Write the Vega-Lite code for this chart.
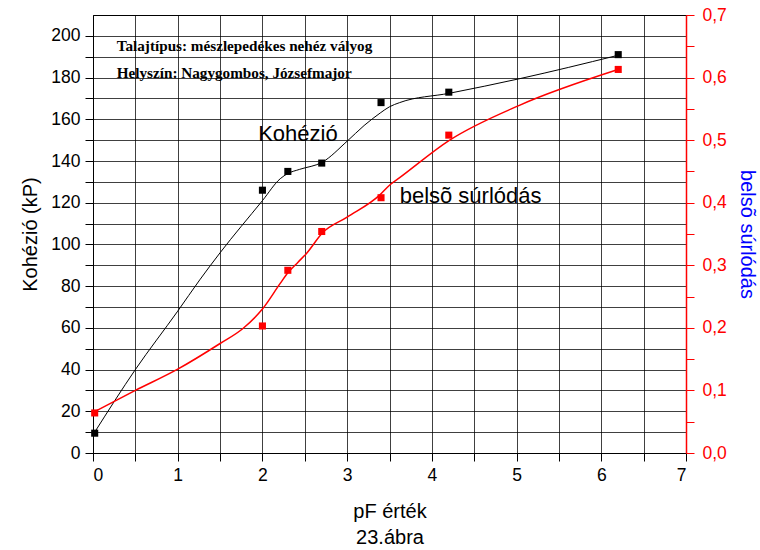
{
  "$schema": "https://vega.github.io/schema/vega-lite/v6.json",
  "width": 593,
  "height": 438,
  "autosize": "none",
  "padding": {"left": 93, "top": 15, "right": 74, "bottom": 97},
  "background": "white",
  "config": {
    "view": {"stroke": "#000", "strokeWidth": 1},
    "font": "Liberation Sans",
    "axis": {"labelFont": "Liberation Sans", "titleFont": "Liberation Sans", "titleFontWeight": "normal"}
  },
  "datasets": {
    "coh_pts": [
      {"x": 0.02, "y": 9.5}, {"x": 2.0, "y": 126}, {"x": 2.3, "y": 135}, {"x": 2.7, "y": 139},
      {"x": 3.4, "y": 168}, {"x": 4.2, "y": 173}, {"x": 6.2, "y": 191}
    ],
    "coh_curve": [
      {"x": 0.02, "y": 10}, {"x": 0.5, "y": 40}, {"x": 1.0, "y": 68}, {"x": 1.26, "y": 83},
      {"x": 1.5, "y": 96}, {"x": 2.0, "y": 121}, {"x": 2.21, "y": 131.5}, {"x": 2.3, "y": 134},
      {"x": 2.44, "y": 136}, {"x": 2.71, "y": 139.5}, {"x": 3.0, "y": 149.5}, {"x": 3.2, "y": 157},
      {"x": 3.39, "y": 163}, {"x": 3.5, "y": 166}, {"x": 3.62, "y": 168}, {"x": 4.21, "y": 172.5},
      {"x": 5.04, "y": 179.5}, {"x": 6.18, "y": 190.5}
    ],
    "fr_pts": [
      {"x": 0.02, "v": 0.064}, {"x": 2.0, "v": 0.203}, {"x": 2.3, "v": 0.292}, {"x": 2.7, "v": 0.354},
      {"x": 3.4, "v": 0.408}, {"x": 4.2, "v": 0.508}, {"x": 6.2, "v": 0.613}
    ],
    "fr_curve": [
      {"x": 0.02, "v": 0.066}, {"x": 0.5, "v": 0.1}, {"x": 1.0, "v": 0.134}, {"x": 1.5, "v": 0.175},
      {"x": 1.77, "v": 0.199}, {"x": 2.0, "v": 0.23}, {"x": 2.21, "v": 0.271}, {"x": 2.3, "v": 0.288},
      {"x": 2.42, "v": 0.305}, {"x": 2.52, "v": 0.319}, {"x": 2.71, "v": 0.352}, {"x": 3.0, "v": 0.377},
      {"x": 3.39, "v": 0.413}, {"x": 3.5, "v": 0.428}, {"x": 3.62, "v": 0.44}, {"x": 4.21, "v": 0.5},
      {"x": 5.04, "v": 0.556}, {"x": 6.18, "v": 0.612}
    ],
    "notes": [
      {"t": "Talajtípus: mészlepedékes nehéz vályog", "x": 0.28, "y": 195},
      {"t": "Helyszín: Nagygombos, Józsefmajor", "x": 0.28, "y": 182}
    ],
    "series_labels": [
      {"t": "Kohézió", "x": 1.95, "y": 153},
      {"t": "belsõ súrlódás", "x": 3.62, "y": 123}
    ]
  },
  "encoding": {
    "x": {
      "field": "x",
      "type": "quantitative",
      "scale": {"domain": [0, 7], "nice": false},
      "axis": {
        "values": [0, 0.5, 1, 1.5, 2, 2.5, 3, 3.5, 4, 4.5, 5, 5.5, 6, 6.5, 7],
        "labelExpr": "datum.value % 1 == 0 ? format(datum.value, 'd') : ''",
        "grid": true,
        "gridColor": "#000",
        "gridOpacity": 0.75,
        "domainColor": "#000",
        "tickColor": "#000",
        "tickSize": 8,
        "labelFontSize": 17.5,
        "labelColor": "#000",
        "labelPadding": 5,
        "title": ["pF érték", "23.ábra"],
        "titleFontSize": 20,
        "titleColor": "#000",
        "titlePadding": 18,
        "titleLineHeight": 26
      }
    }
  },
  "layer": [
    {
      "encoding": {
        "y": {
          "field": "y",
          "type": "quantitative",
          "scale": {"domain": [0, 210], "nice": false},
          "axis": {
            "orient": "left",
            "values": [0, 10, 20, 30, 40, 50, 60, 70, 80, 90, 100, 110, 120, 130, 140, 150, 160, 170, 180, 190, 200],
            "labelExpr": "datum.value % 20 == 0 ? format(datum.value, 'd') : ''",
            "grid": true,
            "gridColor": "#000",
            "gridOpacity": 0.75,
            "domainColor": "#000",
            "tickColor": "#000",
            "tickSize": 8,
            "labelFontSize": 17.5,
            "labelColor": "#000",
            "labelPadding": 5,
            "title": "Kohézió (kP)",
            "titleFontSize": 20,
            "titleColor": "#000",
            "titlePadding": 10
          }
        }
      },
      "layer": [
        {
          "data": {"name": "coh_curve"},
          "mark": {"type": "line", "color": "#000", "strokeWidth": 1, "interpolate": "monotone"}
        },
        {
          "data": {"name": "coh_pts"},
          "mark": {"type": "point", "shape": "square", "filled": true, "color": "#000", "size": 50, "opacity": 1}
        },
        {
          "data": {"name": "notes"},
          "mark": {"type": "text", "align": "left", "baseline": "middle", "font": "Liberation Serif", "fontWeight": "bold", "fontSize": 15.2, "color": "#000"},
          "encoding": {"text": {"field": "t"}}
        },
        {
          "data": {"name": "series_labels"},
          "mark": {"type": "text", "align": "left", "baseline": "middle", "font": "Liberation Sans", "fontSize": 22, "color": "#000"},
          "encoding": {"text": {"field": "t"}}
        }
      ]
    },
    {
      "encoding": {
        "y": {
          "field": "v",
          "type": "quantitative",
          "scale": {"domain": [0, 0.7], "nice": false},
          "axis": {
            "orient": "right",
            "values": [0, 0.05, 0.1, 0.15, 0.2, 0.25, 0.3, 0.35, 0.4, 0.45, 0.5, 0.55, 0.6, 0.65, 0.7],
            "labelExpr": "round(datum.value * 100) % 10 == 0 ? replace(format(datum.value, '.1f'), '.', ',') : ''",
            "grid": false,
            "domainColor": "#ff0000",
            "domainWidth": 1.5,
            "tickColor": "#ff0000",
            "tickSize": 8,
            "labelFontSize": 17.5,
            "labelColor": "#ff0000",
            "labelPadding": 8,
            "title": "belsõ súrlódás",
            "titleFontSize": 20,
            "titleColor": "#0000ff",
            "titlePadding": 10
          }
        }
      },
      "layer": [
        {
          "data": {"name": "fr_curve"},
          "mark": {"type": "line", "color": "#ff0000", "strokeWidth": 1.5, "interpolate": "monotone"}
        },
        {
          "data": {"name": "fr_pts"},
          "mark": {"type": "point", "shape": "square", "filled": true, "color": "#ff0000", "size": 50, "opacity": 1}
        }
      ]
    }
  ],
  "resolve": {"scale": {"y": "independent"}, "axis": {"y": "independent"}}
}
